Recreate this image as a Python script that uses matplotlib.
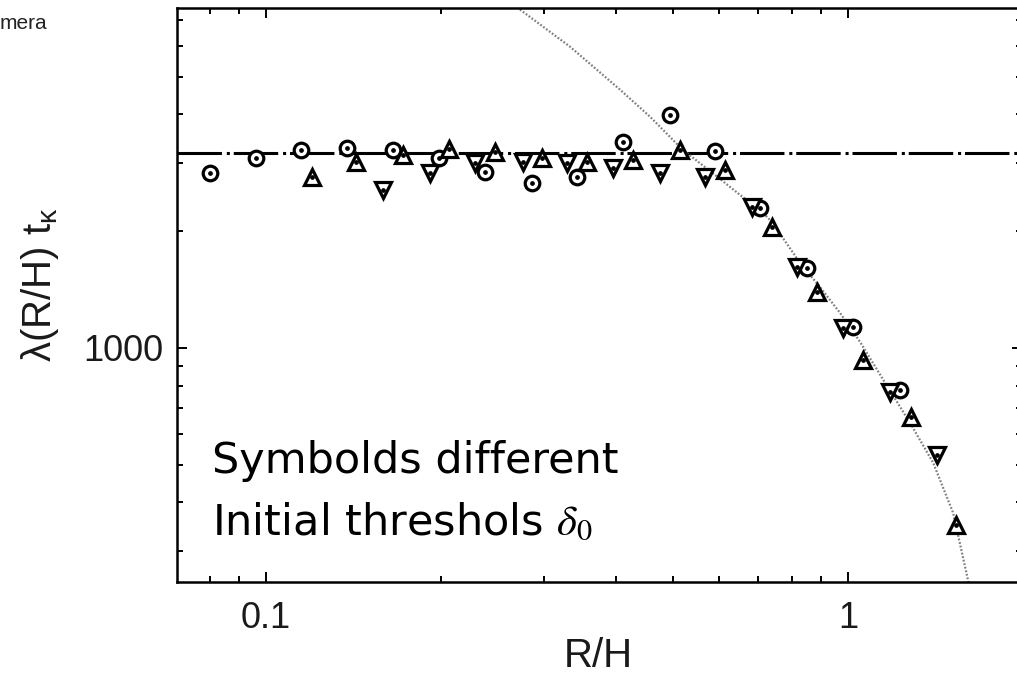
import matplotlib
matplotlib.use("Agg")
from matplotlib import pyplot, ticker

pyplot.rcParams['font.family'] = ['Liberation Sans', 'DejaVu Sans']
pyplot.rcParams['lines.scale_dashes'] = False

# collapse rate vs. scale, three runs with different starting thresholds
r_circle = [0.080, 0.096, 0.115, 0.138, 0.165, 0.198, 0.238, 0.286, 0.342, 0.411,
            0.495, 0.591, 0.706, 0.850, 1.02, 1.23]
lam_circle = [2825, 3090, 3235, 3275, 3235, 3090, 2840, 2660, 2760, 3400,
              3985, 3220, 2295, 1605, 1135, 780]

r_up = [0.120, 0.143, 0.172, 0.206, 0.247, 0.298, 0.356, 0.427, 0.515, 0.615,
        0.740, 0.885, 1.06, 1.28, 1.53]
lam_up = [2760, 3015, 3145, 3260, 3200, 3090, 3015, 3050, 3235, 2875,
          2050, 1395, 930, 665, 350]

r_down = [0.159, 0.191, 0.229, 0.276, 0.329, 0.395, 0.475, 0.568, 0.684, 0.817,
          0.980, 1.18, 1.42]
lam_down = [2555, 2825, 3000, 3015, 3000, 2910, 2825, 2760, 2310, 1620,
            1125, 770, 530]

# theory curve
r_curve = [0.262, 0.271, 0.333, 0.406, 0.457, 0.520, 0.591, 0.652, 0.706, 0.740,
           0.827, 0.895, 0.969, 1.049, 1.149, 1.278, 1.400, 1.515, 1.607, 1.62]
lam_curve = [7900, 7510, 5970, 4625, 3940, 3240, 2790, 2480, 2270, 2110,
             1655, 1435, 1230, 1035, 828, 641, 506, 376, 252, 235]

plateau = 3180

fig = pyplot.figure(figsize=(10.17, 6.78), dpi=100)
ax = fig.add_axes([0.174, 0.1416, 0.831, 0.8466])
ax.set_xscale('log')
ax.set_yscale('log')
ax.set_xlim(0.0703, 1.99)
ax.set_ylim(249.5, 7516)

ax.axhline(plateau, color='black', lw=2.2, dashes=[32, 3.5, 2.2, 2.8])
ax.plot(r_curve, lam_curve, color='#808080', lw=1.6, dashes=[1.3, 1.3])

for xs, ys, m, ms in [(r_circle, lam_circle, 'o', 10.5), (r_up, lam_up, '^', 11), (r_down, lam_down, 'v', 11)]:
    ax.plot(xs, ys, ls='none', marker=m, ms=ms, mfc='white', mec='black', mew=2.3)
    ax.plot(xs, ys, ls='none', marker='o', ms=2.4, color='black')

ax.set_xticks([0.1, 1])
ax.set_xticklabels(['0.1', '1'])
ax.set_yticks([1000])
ax.set_yticklabels(['1000'])
for axis in (ax.xaxis, ax.yaxis):
    axis.set_minor_locator(ticker.LogLocator(base=10, subs=range(2, 10), numticks=20))
    axis.set_minor_formatter(ticker.NullFormatter())

ax.tick_params(which='both', direction='in', top=True, right=True, width=1.4, colors='black')
ax.tick_params(which='major', length=7, labelsize=26, labelcolor='#1a1a1a')
ax.tick_params(axis='x', which='major', pad=14)
ax.tick_params(axis='y', which='major', pad=10)
ax.tick_params(which='minor', length=4)
for s in ax.spines.values():
    s.set_linewidth(1.8)

fig.text(598 / 1017, 1 - 656 / 678, 'R/H', fontsize=29, ha='center', va='center', color='#1a1a1a')
fig.text(40 / 1017, 1 - 284 / 678, r'λ(R/H) t$_\mathregular{κ}$', fontsize=29, rotation=90,
         ha='center', va='center', color='#1a1a1a')
fig.text(0.0, 1 - 29 / 678, 'mera', fontsize=15, ha='left', va='baseline', color='#222222')

fig.text(212 / 1017, 1 - 473 / 678, 'Symbolds different', fontsize=31,
         family='DejaVu Sans', ha='left', va='baseline')
fig.text(212 / 1017, 1 - 535 / 678, r'Initial threshols $\delta_0$', fontsize=31,
         family='DejaVu Sans', math_fontfamily='stix', ha='left', va='baseline')

fig.savefig('out.png', dpi=100)
